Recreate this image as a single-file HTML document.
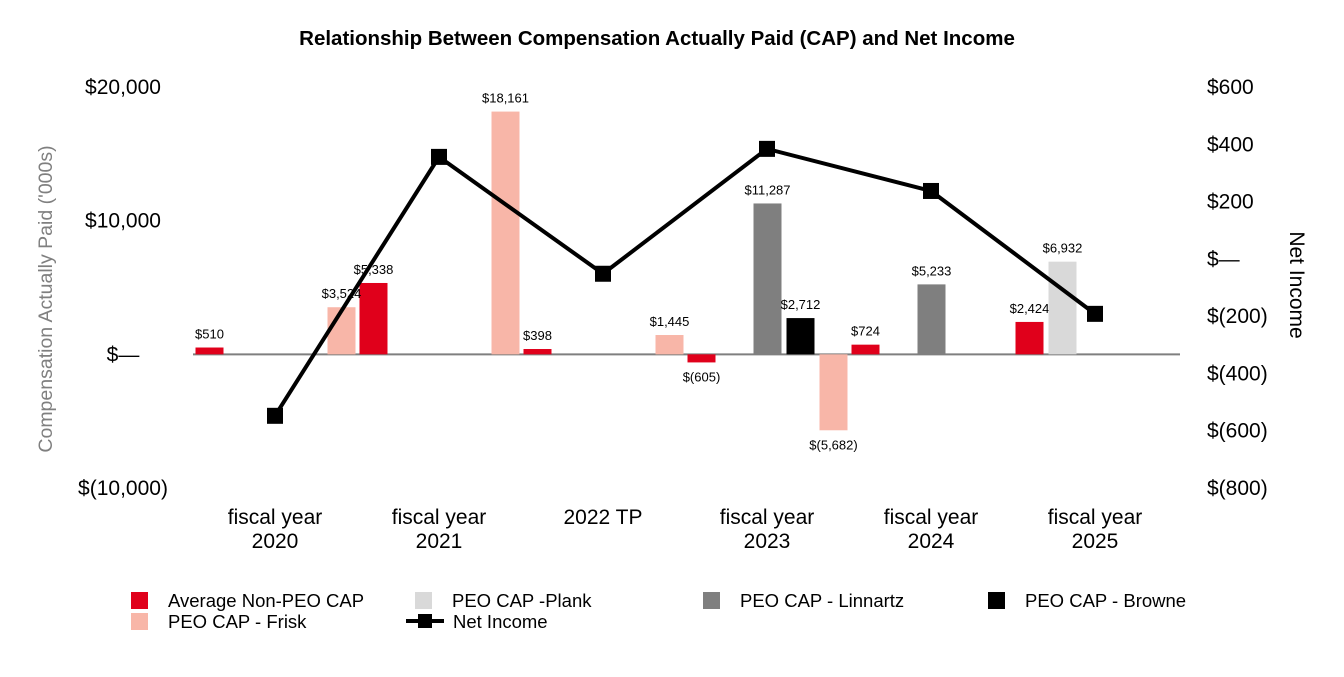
<!DOCTYPE html>
<html><head><meta charset="utf-8"><style>
body{margin:0;background:#fff;font-family:"Liberation Sans",Arial,sans-serif}
svg text{font-family:"Liberation Sans",Arial,sans-serif}
</style></head><body>
<svg id="c" width="1344" height="672" viewBox="0 0 1344 672">
<text x="657" y="45" text-anchor="middle" font-size="20.5" font-weight="bold">Relationship Between Compensation Actually Paid (CAP) and Net Income</text>
<g id="axes"></g><g id="bars"></g><g id="line"></g><g id="legend"></g>
</svg>
<script>
const categories=[["fiscal year","2020"],["fiscal year","2021"],["2022 TP"],["fiscal year","2023"],["fiscal year","2024"],["fiscal year","2025"]];
const seriesNames=["Average Non-PEO CAP","PEO CAP -Plank","PEO CAP - Linnartz","PEO CAP - Browne","PEO CAP - Frisk"];
const seriesColors=["#e0001b","#d9d9d9","#7f7f7f","#000000","#f8b6a8"];
const avgNonPeo=[510,5338,398,-605,724,2424];
const plank=[null,null,null,null,null,6932];
const linnartz=[null,null,null,11287,5233,null];
const browne=[null,null,null,2712,null,null];
const frisk=[3524,18161,1445,-5682,null,null];
const netIncome=[-548,356,-52,384,237,-192];
const leftTicks=[20000,10000,0,-10000];
const leftTickLabels=["$20,000","$10,000","$—","$(10,000)"];
const rightTicks=[600,400,200,0,-200,-400,-600,-800];
const rightTickLabels=["$600","$400","$200","$—","$(200)","$(400)","$(600)","$(800)"];
const NS="http://www.w3.org/2000/svg";
function mk(p,t,a,txt){const e=document.createElementNS(NS,t);for(const k in a)e.setAttribute(k,a[k]);if(txt!=null)e.textContent=txt;p.appendChild(e);return e;}
const X0=193,GW=164,SW=33,BW=28;
const yL=v=>87+(20000-v)*(401/30000);
const yR=v=>87+(600-v)*(401/1400);
const gx=i=>X0+i*GW;
const fmt=v=>v<0?"$("+Math.abs(v).toLocaleString("en-US")+")":"$"+v.toLocaleString("en-US");
const ax=document.getElementById('axes');
leftTicks.forEach((t,i)=>{const e=mk(ax,'text',{x:123,y:yL(t)+7,'text-anchor':'middle','font-size':21},leftTickLabels[i]);

});
rightTicks.forEach((t,i)=>{const e=mk(ax,'text',{x:1207,y:yR(t)+7,'font-size':21},rightTickLabels[i]);

});
categories.forEach((c,i)=>{c.forEach((l,j)=>{const e=mk(ax,'text',{x:gx(i)+GW/2,y:524+j*24,'text-anchor':'middle','font-size':21},l);

});});
let t1=mk(ax,'text',{transform:'translate(52,299) rotate(-90)','text-anchor':'middle','font-size':19.5,fill:'#7f7f7f'},"Compensation Actually Paid ('000s)");


let t2=mk(ax,'text',{transform:'translate(1290,285) rotate(90)','text-anchor':'middle','font-size':21},"Net Income");


const bg=document.getElementById('bars');
const all=[avgNonPeo,plank,linnartz,browne,frisk];
all.forEach((s,si)=>s.forEach((v,i)=>{if(v==null)return;
const x=gx(i)+si*SW+(SW-BW)/2,y0=yL(0),y1=yL(v);
const r=mk(bg,'rect',{x:x,y:Math.min(y0,y1),width:BW,height:Math.abs(y1-y0),fill:seriesColors[si]});


const ly=v>=0?y1-9:y1+19;
const l=mk(bg,'text',{x:x+BW/2,y:ly,'text-anchor':'middle','font-size':13},fmt(v));

}));
const zl=mk(ax,'line',{x1:193,x2:1180,y1:yL(0),y2:yL(0),stroke:'#7f7f7f','stroke-width':2});


const lg=document.getElementById('line');
const pts=netIncome.map((v,i)=>[gx(i)+GW/2,yR(v)]);
const pl=mk(lg,'polyline',{points:pts.map(p=>p.join(',')).join(' '),fill:'none',stroke:'#000','stroke-width':4});


pts.forEach(p=>{const m=mk(lg,'rect',{x:p[0]-8,y:p[1]-8,width:16,height:16,fill:'#000'});

});
const lgd=document.getElementById('legend');
const items=[[0,131,600],[1,415,600],[2,703,600],[3,988,600],[4,131,621]];
items.forEach(([si,x,y])=>{const g=mk(lgd,'g',{});


mk(g,'rect',{x:x,y:y-8,width:17,height:17,fill:seriesColors[si]});
mk(g,'text',{x:x+37,y:y+7,'font-size':18.5},seriesNames[si]);});
const ng=mk(lgd,'g',{});


mk(ng,'line',{x1:406,x2:444,y1:621,y2:621,stroke:'#000','stroke-width':4});
mk(ng,'rect',{x:418,y:614,width:14,height:14,fill:'#000'});
mk(ng,'text',{x:453,y:628,'font-size':18.5},"Net Income");
</script>
</body></html>
